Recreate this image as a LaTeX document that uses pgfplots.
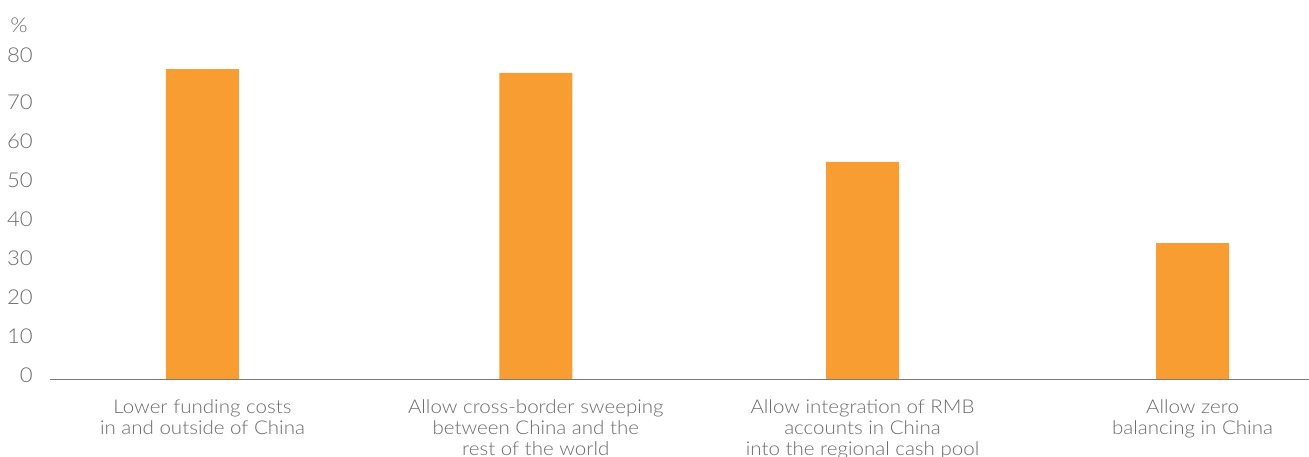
\documentclass[border=0pt]{standalone}
\usepackage{fontspec}
\setmainfont{Lato Light}[FakeStretch=1.08]
\usepackage{pgfplots}
\pgfplotsset{compat=1.18}
\definecolor{barorange}{HTML}{F89D31}
\definecolor{txtgray}{HTML}{6B6B6B}
\definecolor{axisgray}{HTML}{7A7A7A}

\begin{document}
\begin{tikzpicture}
\begin{axis}[
  at={(0,0)}, anchor=south west,
  scale only axis,
  width=1259bp, height=312bp,
  xmin=-0.462, xmax=3.353,
  ymin=0, ymax=80,
  ybar, bar width=73bp,
  axis on top,
  axis x line*=bottom,
  axis y line*=left,
  y axis line style={draw=none},
  x axis line style={draw=axisgray, line width=1.8bp, -},
  major tick length=0pt,
  xtick={0,1.01,2,3},
  xticklabels={
    {Lower funding costs\\in and outside of China},
    {Allow cross-border sweeping\\between China and the\\rest of the world},
    {Allow integration of RMB\\accounts in China\\into the regional cash pool},
    {Allow zero\\balancing in China}},
  xticklabel style={align=center, anchor=north, inner sep=0pt, yshift=-19.5bp,
    text=txtgray, font=\fontsize{19bp}{21bp}\selectfont},
  ytick={0,10,...,70},
  extra y ticks={80},
  extra y tick style={yticklabel style={yshift=8bp}},
  yticklabel style={anchor=east, inner sep=0pt, xshift=-17bp, yshift=4.5bp,
    text=txtgray, font=\fontsize{20.5bp}{22bp}\selectfont},
  /pgf/number format/assume math mode=true,
]
\addplot[fill=barorange, draw=none] coordinates {
  (0,79.6) (1.01,78.6) (2,55.8) (3,35.0)};
\end{axis}
\node[text=txtgray, font=\fontsize{20.5bp}{22bp}\selectfont] at (-31bp,354.5bp) {\%};
\pgfresetboundingbox
\path[use as bounding box] (-50bp,-77.5bp) rectangle (1259bp,379.5bp);
\end{tikzpicture}
\end{document}
